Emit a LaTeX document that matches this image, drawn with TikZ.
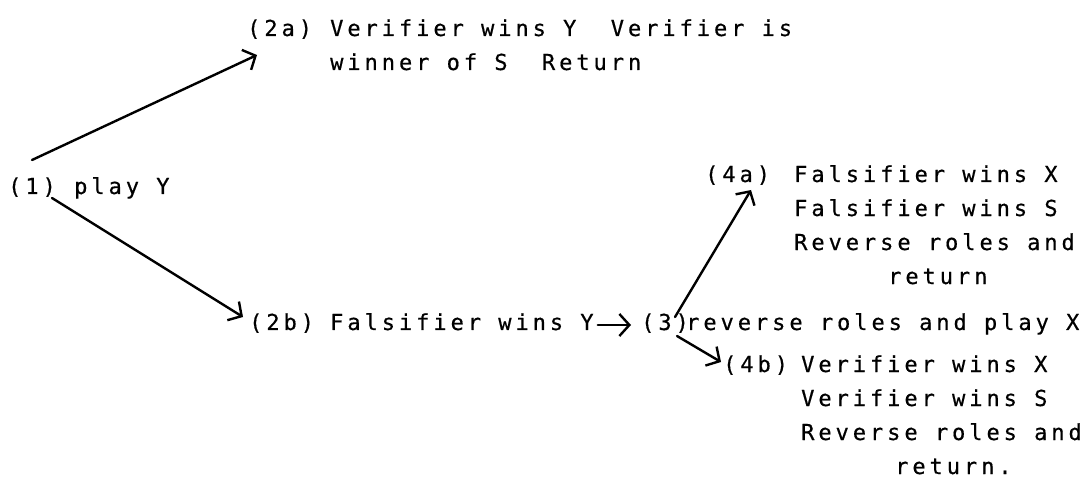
\documentclass[tikz,border=0pt]{standalone}
\usepackage{fontspec}
\usetikzlibrary{arrows.meta}
\newfontfamily\typewriter[LetterSpace=18,FakeBold=0.5]{DejaVu Sans Mono}
\tikzset{
  lbl/.style={font=\typewriter\fontsize{22}{34}\selectfont, inner sep=0pt, anchor=base west},
  blk/.style={lbl, align=left},
  flow/.style={line width=2.4pt, line cap=round,
    -{Straight Barb[length=10pt,width=22pt,line width=2.4pt]}}
}
\begin{document}
\begin{tikzpicture}[x=1pt,y=-1pt]
\useasboundingbox[fill=white] (0,0) rectangle (1092,478);

% start
\node[lbl] (l1) at (8,194) {(1)};
\node[lbl] (t1) at (74,194) {play Y};

% first outcome (block nodes are placed by the baseline of their last line)
\node[lbl] (l2a) at (247,36) {(2a)};
\node[blk] (t2a) at (330,70) {Verifier wins Y\ \ Verifier is\\winner of S\ \ Return};

% second outcome
\node[lbl] (l2b) at (249,330) {(2b)};
\node[lbl] (t2b) at (330,330) {Falsifier wins Y};

% roles reversed
\node[lbl] (l3) at (641,330) {(3)};
\node[lbl] (t3) at (686,330) {reverse roles and play X};

% results of X
\node[lbl] (l4a) at (705,182) {(4a)};
\node[blk] (t4a) at (794,284) {Falsifier wins X\\Falsifier wins S\\Reverse roles and\\\hspace*{94pt}return};
\node[lbl] (l4b) at (723,372) {(4b)};
\node[blk] (t4b) at (801,474) {Verifier wins X\\Verifier wins S\\Reverse roles and\\\hspace*{94pt}return.};

% connectors
\draw[flow] ([shift={(24,-34)}]l1.base west) -- ([shift={(10,19)}]l2a.base west);
\draw[flow] ([shift={(44,4)}]l1.base west) -- ([shift={(-6,-13)}]l2b.base west);
\draw[flow] ([shift={(4,-5)}]t2b.base east) -- ([shift={(-10,-5)}]l3.base west);
\draw[flow] ([shift={(34,-13)}]l3.base west) -- ([shift={(46,8)}]l4a.base west);
\draw[flow] ([shift={(36,6)}]l3.base west) -- ([shift={(-2,-10)}]l4b.base west);
\end{tikzpicture}
\end{document}
